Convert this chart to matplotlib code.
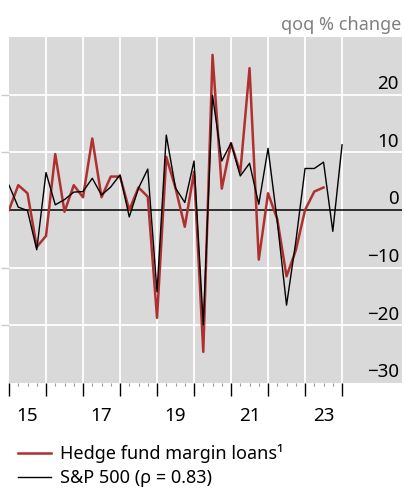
import numpy as np
from matplotlib import pyplot as plt
from matplotlib.transforms import blended_transform_factory

plt.rcParams['font.family'] = ['Noto Sans', 'DejaVu Sans']

# quarterly, first point 2015 Q1
margin_loans = [0.0, 4.3, 2.9, -6.4, -4.5, 9.7, -0.3, 4.3, 2.2, 12.4,
                2.2, 5.8, 5.8, 0.0, 3.9, 2.3, -18.7, 9.2, 3.8, -2.9,
                6.6, -24.6, 26.9, 3.7, 11.6, 6.5, 24.6, -8.6, 2.9, -1.6,
                -11.5, -7.0, 0.0, 3.2, 3.9]
sp500 = [4.3, 0.5, -0.1, -6.9, 6.5, 0.9, 1.8, 3.1, 3.2, 5.5,
         2.6, 4.0, 6.1, -1.2, 3.8, 7.1, -14.2, 13.0, 3.8, 1.3,
         8.5, -19.9, 19.9, 8.5, 11.6, 5.9, 8.1, 1.0, 10.7, -2.0,
         -16.5, -5.5, 7.2, 7.2, 8.3, -3.7, 11.3]
start_year = 2015
year_labels = ['15', '17', '19', '21', '23']
yticks = [20, 10, 0, -10, -20, -30]

t_red = start_year + np.arange(len(margin_loans)) / 4
t_blk = start_year + np.arange(len(sp500)) / 4

fig = plt.figure(figsize=(4.04, 4.9), dpi=100)
ax = fig.add_axes([9/404, 107/490, 393/404, 346/490])
ax.set_facecolor('#d9d9d9')
ax.set_xlim(2015, 2025.62)
ax.set_ylim(-30, 30)

for yr in range(2016, 2025):
    ax.axvline(yr, color='white', lw=1.3, zorder=1)
for v in [-20, -10, 10, 20]:
    ax.axhline(v, color='white', lw=1.3, zorder=1)
ax.axhline(0, color='black', lw=1.1, zorder=2)

ax.plot(t_red, margin_loans, color='#b03030', lw=1.8, zorder=3,
        label='Hedge fund margin loans¹')
ax.plot(t_blk, sp500, color='black', lw=1.0, zorder=4,
        label='S&P 500 (ρ = 0.83)')

for s in ax.spines.values():
    s.set_visible(False)

ax.set_xticks(range(2015, 2025))
ax.set_xticks(np.arange(2015, 2024, 0.25), minor=True)
ax.tick_params(axis='x', which='major', length=9, width=1.0, color='black',
               labelbottom=False)
ax.tick_params(axis='x', which='minor', length=2, width=0.8, color='#999999')
ax.set_yticks([-20, -10, 10, 20])
ax.tick_params(axis='y', which='major', length=6, width=1.0, color='#cccccc',
               labelleft=False)

trx = blended_transform_factory(ax.transData, fig.transFigure)
for i, lab in enumerate(year_labels):
    ax.text(start_year + 2 * i + 0.5, 1 - 421/490, lab, transform=trx,
            ha='center', va='baseline', fontsize=13.5)

try_ = blended_transform_factory(fig.transFigure, ax.transData)
for v in yticks:
    lab = str(v).replace('-', '\u2212')
    ax.annotate(lab, xy=(399/404, v), xycoords=try_, xytext=(0, 4),
                textcoords='offset points', ha='right', va='baseline',
                fontsize=13.5, annotation_clip=False)

fig.text(401/404, 1 - 30/490, 'qoq % change', color='#808080',
         ha='right', va='baseline', fontsize=13)

fig.legend(loc='upper left', bbox_to_anchor=(18/404, 1 - 444/490),
           frameon=False, fontsize=13, handlelength=1.8, handletextpad=0.55,
           labelspacing=0.33, borderpad=0, borderaxespad=0)

fig.savefig('out.png', dpi=100)
